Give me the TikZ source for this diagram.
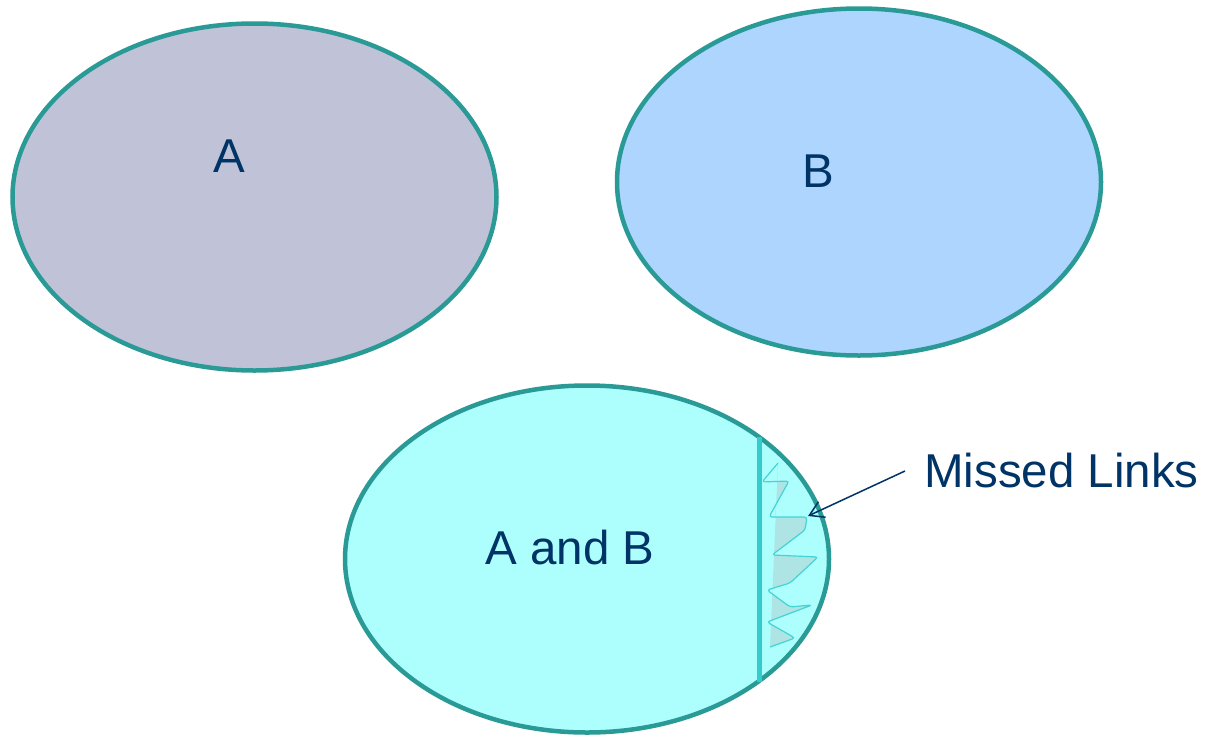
\documentclass[tikz,border=0pt]{standalone}
\usepackage{fontspec}
\setmainfont{Liberation Sans}
\usetikzlibrary{shapes.geometric,arrows.meta}
\definecolor{rim}{HTML}{2A9A96}
\definecolor{fillA}{HTML}{C0C3D7}
\definecolor{fillB}{HTML}{ADD5FE}
\definecolor{fillAB}{HTML}{ADFFFE}
\definecolor{txt}{HTML}{003366}
\definecolor{bar}{HTML}{33CCCC}
\definecolor{wave}{HTML}{45D3D3}
\definecolor{missfill}{HTML}{AEE4E4}
\tikzset{
  setshape/.style={ellipse, draw=rim, line width=4.5pt, inner sep=0pt,
    minimum width=484pt, minimum height=347pt},
  lbl/.style={text=txt, font=\fontsize{47.5}{52}\selectfont, inner sep=0pt},
}
\begin{document}
\begin{tikzpicture}[x=1pt,y=-1pt]
\useasboundingbox (0,0) rectangle (1207,736);
\node[setshape, fill=fillA] (A) at (254.5,197) {};
\node[setshape, fill=fillB] (B) at (859,182) {};
\node[setshape, fill=fillAB] (AB) at (587,559) {};
\node[lbl] (la) at (229,156) {A};
\node[lbl] (lb) at (818,171) {B};
\node[lbl] (lab) at (570,548) {A and B};
% shaded missed area
\begin{scope}
  \clip (778,455) -- (840,455) -- (840,660) -- (769,660) -- cycle;
  \fill[missfill] (778,463) -- (762,482) -- (789,481) -- (769,517) -- (807,517) -- (805,530)
    -- (772,555) -- (818,557) -- (790,583) -- (767,590) -- (790,607) -- (812,605)
    -- (767,622) -- (795,638) -- (770,647) -- cycle;
\end{scope}
\draw[wave, line width=1.2pt, line join=round, rounded corners=3pt]
  (778,463) -- (762,482) -- (789,481) -- (769,517) -- (807,517) -- (805,530)
    -- (772,555) -- (818,557) -- (790,583) -- (767,590) -- (790,607) -- (812,605)
    -- (767,622) -- (795,638) -- (770,647);
\draw[bar, line width=5pt] (759,437) -- (759,682);
\node[lbl, anchor=base west] (ml) at (924,487) {Missed Links};
\coordinate (tail) at (905,471);
\coordinate (tip) at (808,516);
\draw[txt, line width=1.5pt, -{Straight Barb[length=14pt,width=17pt]}] (tail) -- (tip);
\end{tikzpicture}
\end{document}
